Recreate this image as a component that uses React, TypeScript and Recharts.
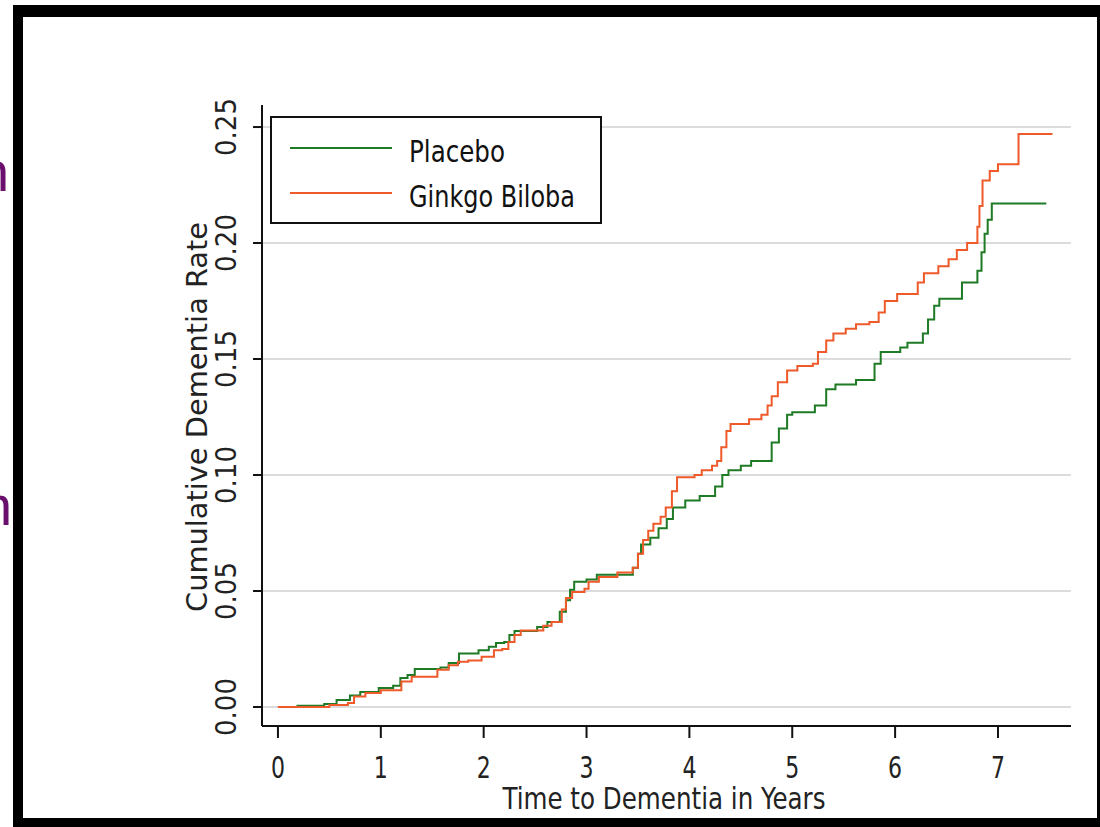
import { LineChart, Line, XAxis, YAxis, CartesianGrid, Legend } from 'recharts'

// step points (time in years, cumulative rate)
const placeboTimes = [
  0, 0.19, 0.45, 0.57, 0.7, 0.8, 0.98, 1.12, 1.19, 1.26, 1.33, 1.58, 1.66, 1.76, 1.95, 2.05,
  2.12, 2.2, 2.25, 2.3, 2.52, 2.62, 2.74, 2.8, 2.84, 2.88, 3.0, 3.1, 3.45, 3.5, 3.53, 3.62,
  3.7, 3.78, 3.84, 3.96, 4.1, 4.25, 4.32, 4.38, 4.5, 4.6, 4.8, 4.87, 4.95, 5.0, 5.22, 5.33,
  5.42, 5.62, 5.8, 5.86, 6.05, 6.12, 6.27, 6.32, 6.38, 6.43, 6.65, 6.8, 6.84, 6.87, 6.9, 6.94,
  7.47,
]
const placeboRates = [
  0, 0.0005, 0.0013, 0.003, 0.005, 0.0065, 0.0082, 0.0092, 0.0125, 0.0138, 0.0164, 0.017, 0.019,
  0.023, 0.0245, 0.026, 0.0276, 0.028, 0.031, 0.0328, 0.0345, 0.0366, 0.041, 0.046, 0.0505, 0.054,
  0.055, 0.057, 0.06, 0.066, 0.07, 0.073, 0.077, 0.081, 0.086, 0.089, 0.091, 0.095, 0.1, 0.102,
  0.104, 0.106, 0.114, 0.12, 0.126, 0.127, 0.13, 0.137, 0.139, 0.141, 0.148, 0.153, 0.155, 0.157,
  0.161, 0.167, 0.173, 0.176, 0.183, 0.188, 0.196, 0.204, 0.21, 0.217, 0.217,
]

const ginkgoTimes = [
  0, 0.5, 0.68, 0.74, 0.85, 1.0, 1.2, 1.3, 1.55, 1.66, 1.75, 1.85, 1.98, 2.1, 2.18, 2.24, 2.3,
  2.36, 2.58, 2.66, 2.76, 2.8, 2.86, 2.98, 3.02, 3.12, 3.3, 3.45, 3.5, 3.55, 3.6, 3.65, 3.72,
  3.77, 3.83, 3.88, 4.05, 4.12, 4.22, 4.27, 4.31, 4.36, 4.4, 4.58, 4.7, 4.76, 4.8, 4.86, 4.95,
  5.05, 5.2, 5.25, 5.33, 5.4, 5.52, 5.62, 5.75, 5.84, 5.9, 6.02, 6.22, 6.28, 6.42, 6.52, 6.6,
  6.7, 6.8, 6.82, 6.85, 6.92, 7.0, 7.2, 7.53,
]
const ginkgoRates = [
  0, 0.0008, 0.0017, 0.0045, 0.006, 0.0072, 0.011, 0.013, 0.016, 0.018, 0.0195, 0.02, 0.0216,
  0.0245, 0.025, 0.028, 0.031, 0.033, 0.035, 0.0366, 0.042, 0.047, 0.0496, 0.051, 0.054, 0.056,
  0.058, 0.06, 0.066, 0.072, 0.076, 0.079, 0.082, 0.086, 0.093, 0.099, 0.1, 0.102, 0.104, 0.106,
  0.112, 0.119, 0.122, 0.124, 0.126, 0.13, 0.134, 0.14, 0.145, 0.147, 0.148, 0.153, 0.158, 0.161,
  0.163, 0.165, 0.166, 0.17, 0.175, 0.178, 0.183, 0.187, 0.19, 0.193, 0.197, 0.2, 0.207, 0.216,
  0.227, 0.231, 0.234, 0.247, 0.247,
]

const xTicks = [0, 1, 2, 3, 4, 5, 6, 7]
const yTicks = [0, 0.05, 0.1, 0.15, 0.2, 0.25]
const seriesNames = ['Placebo', 'Ginkgo Biloba']
const seriesColors = ['#1e7a24', '#ee5a2a']

const placeboData = placeboTimes.map((t, i) => ({ t, rate: placeboRates[i] }))
const ginkgoData = ginkgoTimes.map((t, i) => ({ t, rate: ginkgoRates[i] }))

const font = "'Liberation Sans Narrow', 'DejaVu Sans Condensed', 'Liberation Sans', sans-serif"

function XTick({ x, payload }: any) {
  return (
    <text x={x} y={778} textAnchor="middle" fontFamily={font} fontSize={31} fill="#222"
      textLength={14} lengthAdjust="spacingAndGlyphs">
      {payload.value}
    </text>
  )
}

function YTick({ y, payload }: any) {
  return (
    <text x={236} y={y} transform={`rotate(-90 236 ${y})`} textAnchor="middle" fontFamily={font}
      fontSize={28} fill="#222" textLength={58} lengthAdjust="spacingAndGlyphs">
      {payload.value.toFixed(2)}
    </text>
  )
}

function LegendBox() {
  return (
    <svg width={332} height={108} style={{ display: 'block', overflow: 'visible' }}>
      <rect x={1} y={1} width={330} height={106} fill="#fff" stroke="#111" strokeWidth={2} />
      {seriesNames.map((name, i) => (
        <g key={name}>
          <line x1={20} x2={122} y1={32 + i * 45} y2={32 + i * 45} stroke={seriesColors[i]} strokeWidth={2} />
          <text x={139} y={46 + i * 45} fontFamily={font} fontSize={30} fill="#111"
            textLength={i === 0 ? 96 : 166} lengthAdjust="spacingAndGlyphs">
            {name}
          </text>
        </g>
      ))}
    </svg>
  )
}

export default function App() {
  return (
    <div style={{ position: 'fixed', left: 0, top: 0, width: 1100, height: 827, background: '#fff', overflow: 'hidden' }}>
      <div style={{ position: 'absolute', left: -22, top: 144, fontFamily: "'Liberation Sans', sans-serif", fontSize: 56, color: '#6b0f6e', lineHeight: 1 }}>n</div>
      <div style={{ position: 'absolute', left: -19, top: 478, fontFamily: "'Liberation Sans', sans-serif", fontSize: 56, color: '#6b0f6e', lineHeight: 1 }}>n</div>
      <div style={{ position: 'absolute', left: 13, top: 5, width: 1087, height: 822, boxSizing: 'border-box',
        borderLeft: '10px solid #000', borderTop: '12px solid #000', borderRight: '3px solid #000', borderBottom: '9px solid #000' }} />
      <div style={{ position: 'absolute', left: 0, top: 0 }}>
        <LineChart width={1100} height={827} margin={{ top: 105, right: 29, bottom: 41, left: 182 }}>
          <CartesianGrid vertical={false} stroke="#dcdcdc" strokeWidth={2} horizontalValues={yTicks} />
          <XAxis type="number" dataKey="t" domain={[-0.155, 7.71]} allowDataOverflow ticks={xTicks}
            height={60} tickSize={12} tick={<XTick />} axisLine={{ stroke: '#111', strokeWidth: 2 }}
            tickLine={{ stroke: '#111', strokeWidth: 2 }}
            label={{ content: () => (
              <text x={664} y={809} textAnchor="middle" fontFamily={font} fontSize={31} fill="#222"
                textLength={323} lengthAdjust="spacingAndGlyphs">Time to Dementia in Years</text>
            ) }} />
          <XAxis xAxisId="top" orientation="top" type="number" domain={[-0.155, 7.71]} allowDataOverflow
            height={0} tick={false} tickLine={false} axisLine={{ stroke: '#111', strokeWidth: 2 }} />
          <YAxis type="number" domain={[-0.0082, 0.2595]} allowDataOverflow ticks={yTicks} width={80}
            tickSize={9} tick={<YTick />} axisLine={{ stroke: '#111', strokeWidth: 2 }}
            tickLine={{ stroke: '#111', strokeWidth: 2 }}
            label={{ content: () => (
              <text x={207} y={417} transform="rotate(-90 207 417)" textAnchor="middle" fontFamily={font}
                fontSize={28} fill="#222" textLength={390} lengthAdjust="spacingAndGlyphs">
                Cumulative Dementia Rate
              </text>
            ) }} />
          <YAxis yAxisId="right" orientation="right" type="number" domain={[-0.0082, 0.2595]} allowDataOverflow
            width={0} tick={false} tickLine={false} axisLine={{ stroke: '#111', strokeWidth: 2 }} />
          <Legend layout="horizontal" verticalAlign="middle" align="center" content={() => <LegendBox />}
            wrapperStyle={{ position: 'absolute', left: 270, top: 116, width: 332, height: 108 }} />
          <Line data={placeboData} dataKey="rate" name="Placebo" type="stepAfter" stroke={seriesColors[0]}
            strokeWidth={2} dot={false} activeDot={false} isAnimationActive={false} />
          <Line data={ginkgoData} dataKey="rate" name="Ginkgo Biloba" type="stepAfter" stroke={seriesColors[1]}
            strokeWidth={2} dot={false} activeDot={false} isAnimationActive={false} />
        </LineChart>
      </div>
    </div>
  )
}
